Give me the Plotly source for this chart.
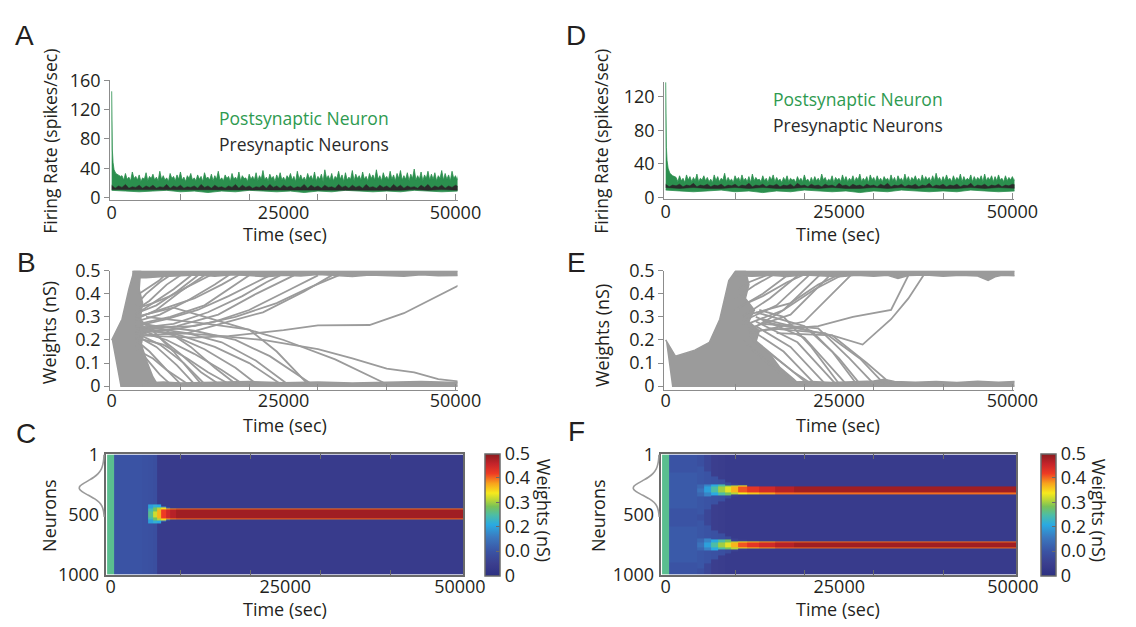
import plotly.graph_objects as go

W, H = 1136, 627
FONT = "Open Sans"
INK = "#231f20"
AXC = "#8c8c8c"
FRAME = "#6a6a6a"
GREEN = "#2b8f4e"
BLACK = "#2a2a2a"
GREY = "#9b9b9b"

# ---------------- data: firing rates (A, D) ----------------
time_ticks = [0, 25000, 50000]
time_minor = [10000, 20000, 30000, 40000, 50000]
rate_ticks_A = [0, 40, 80, 120, 160]
rate_ticks_D = [0, 40, 80, 120]

spike_t = [0, 40, 100, 200, 350, 600, 1000, 1300]
A_spike = [145, 95, 65, 48, 38, 33, 30, 29]
D_spike = [137, 90, 60, 44, 35, 29, 26, 25]

A_green_up = [30, 24, 33, 25, 28, 23, 35, 26, 29, 24, 31, 22, 27, 25, 34, 23, 29, 26, 32, 24,
              28, 23, 36, 25, 30, 24, 27, 22, 33, 26, 29, 23, 31, 25, 35, 24, 28, 22, 30, 26,
              33, 24, 27, 23, 31, 25, 29, 22, 34, 26, 28, 24, 32, 23, 30, 25, 36, 24, 27, 23,
              31, 26, 29, 22, 33, 25, 28, 24, 35, 23, 30, 26, 27, 22, 32, 25, 29, 24, 34, 23,
              30, 25, 37, 24, 28, 23, 32, 26, 29, 22, 31, 25, 34, 24, 28, 23, 30, 26, 33, 24,
              29, 22, 36, 25, 31, 24, 28, 23, 33, 26, 30, 24, 35, 23, 29, 25, 32, 22, 38, 26,
              30, 24, 33, 23, 29, 26, 36, 25, 31, 22, 34, 24, 28, 25, 37, 23, 32, 26, 30, 24,
              35, 25, 29, 23, 33, 26, 31, 24, 38, 25, 30, 23, 34, 26, 29, 24, 36, 25, 31, 23,
              33, 26, 37, 24, 30, 25, 34, 23, 32, 26, 39, 24, 30, 25, 35, 23, 31, 26, 36, 24,
              32, 25, 34, 23, 30, 26, 37, 24, 33, 25, 31, 23, 36, 26, 30, 24, 33]
D_green_up = [24, 19, 26, 20, 23, 18, 27, 21, 25, 19, 24, 20, 28, 19, 23, 21, 26, 20, 24, 19,
              22, 18, 27, 20, 25, 19, 23, 21, 29, 19, 24, 20, 22, 18, 26, 21, 24, 19, 27, 20,
              23, 19, 25, 18, 28, 20, 24, 21, 22, 19, 26, 20, 23, 18, 25, 21, 27, 19, 24, 20,
              22, 18, 24, 20, 26, 19, 23, 21, 22, 18, 25, 20, 23, 19, 27, 20, 22, 18, 24, 19,
              25, 20, 23, 19, 28, 21, 24, 19, 22, 20, 26, 18, 24, 21, 23, 19, 27, 20, 25, 19,
              23, 20, 26, 19, 24, 21, 28, 19, 23, 20, 25, 18, 27, 21, 24, 19, 26, 20, 23, 19,
              25, 21, 23, 19, 27, 20, 24, 18, 26, 21, 23, 19, 28, 20, 25, 19, 24, 21, 26, 20,
              23, 19, 27, 20, 25, 21, 24, 19, 26, 20, 29, 21, 24, 19, 25, 20, 27, 21, 23, 19,
              26, 20, 24, 21, 28, 19, 25, 20, 23, 21, 27, 19, 25, 20, 24, 21, 26, 19, 28, 20,
              24, 21, 26, 19, 25, 20, 27, 21, 23, 19, 26, 20, 24, 21, 25, 20, 24]
# sampling grid of the noisy upper edge (one sample every 250 s from 1500 s)
edge_t = list(range(1500, 1500 + 250 * len(A_green_up), 250))

low_t = list(range(0, 50000, 2000)) + [50500]  # 26 samples
A_green_low = [10, 9, 8, 9, 10, 8, 9, 7, 9, 8, 10, 9, 8, 9, 7, 9, 8, 10, 9, 8, 9, 8, 10, 9, 8, 9]
D_green_low = [9, 8, 7, 8, 9, 7, 8, 6, 8, 7, 9, 8, 7, 8, 6, 8, 7, 9, 8, 7, 8, 7, 9, 8, 7, 8]
A_black_low = [11, 10, 11, 10, 10, 11, 10, 11, 10, 10, 11, 10, 11, 10, 10, 11, 10, 11, 10, 11,
               10, 10, 11, 10, 11, 10]
D_black_low = [12, 11, 12, 11, 11, 12, 11, 12, 11, 11, 12, 11, 12, 11, 11, 12, 11, 12, 11, 12,
               11, 11, 12, 11, 12, 11]

A_black_up = [17, 13, 16, 14, 18, 13, 15, 14, 17, 13, 16, 14, 17, 13, 15, 14, 18, 13, 16, 14,
              17, 13, 15, 14, 16, 13, 18, 14, 16, 13, 17, 14, 15, 13, 16, 14, 18, 13, 17, 14,
              16, 13, 15, 14, 17, 13, 18, 14, 16, 13, 17, 14, 16, 13, 15, 14, 18, 13, 17, 14,
              16, 13, 17, 14, 15, 13, 18, 14, 16, 13, 17, 14, 16, 13, 18, 14, 15, 13, 17, 14,
              16, 13, 18, 14, 17, 13, 16, 14, 15, 13, 17, 14, 18, 13, 16, 14, 17, 13, 16, 14,
              17, 15]
D_black_up = [16, 13, 15, 14, 16, 13, 15, 14, 17, 13, 15, 14, 16, 13, 15, 14, 16, 13, 15, 14,
              16, 13, 15, 14, 17, 13, 15, 14, 16, 13, 15, 14, 16, 13, 15, 14, 16, 13, 17, 14,
              15, 13, 16, 14, 15, 13, 16, 14, 15, 13, 17, 14, 15, 13, 16, 14, 15, 13, 16, 14,
              15, 13, 16, 14, 17, 13, 15, 14, 16, 13, 15, 14, 16, 13, 15, 14, 17, 13, 15, 14,
              16, 13, 15, 14, 16, 13, 15, 14, 17, 13, 15, 14, 16, 13, 15, 14, 16, 13, 15, 14,
              16, 15]
black_t = list(range(0, 500 * len(A_black_up), 500))  # one sample every 500 s

# ---------------- data: weights (B, E) ----------------
weight_ticks = [0, 0.1, 0.2, 0.3, 0.4, 0.5]
weight_labels = ["0", "0.1", "0.2", "0.3", "0.4", "0.5"]

B_dense_t = [0, 1500, 2500, 3250, 4200, 4000, 4500, 4200, 4700, 4300, 5200, 6000, 6800, 1250]
B_dense_w = [0.2, 0.29, 0.42, 0.5, 0.5, 0.42, 0.36, 0.3, 0.24, 0.18, 0.1, 0.04, 0.0, 0.0]
B_top_t = [3000, 5000, 7500, 10000, 12500, 15000, 17500, 20000, 22500, 25000, 27500, 30000,
           32500, 35000, 37500, 40000, 42500, 45000, 47500, 50700]
B_top_w = [0.47, 0.47, 0.475, 0.478, 0.482, 0.476, 0.483, 0.479, 0.474, 0.48, 0.477, 0.484,
           0.478, 0.475, 0.482, 0.479, 0.476, 0.483, 0.478, 0.48]
B_bot_t = [4500, 7500, 10000, 15000, 20000, 25000, 30000, 35000, 40000, 45000, 50700]
B_bot_w = [0.012, 0.018, 0.014, 0.017, 0.02, 0.015, 0.018, 0.014, 0.017, 0.02, 0.016]
B_lines = [
    ([3500, 5000, 7000, 9000], [0.35, 0.40, 0.45, 0.49]),
    ([3500, 5500, 8000, 10500], [0.33, 0.37, 0.44, 0.49]),
    ([3500, 6000, 9000, 12000], [0.31, 0.36, 0.42, 0.49]),
    ([3500, 6500, 10000, 14000], [0.29, 0.33, 0.41, 0.49]),
    ([3500, 7000, 11000, 15000, 17500], [0.28, 0.31, 0.37, 0.44, 0.49]),
    ([3500, 8000, 12500, 17000, 21000, 23000], [0.26, 0.29, 0.33, 0.39, 0.45, 0.48]),
    ([3500, 9000, 14000, 19000, 22500, 24500], [0.25, 0.27, 0.32, 0.39, 0.45, 0.48]),
    ([3500, 10000, 15000, 20000, 26000, 30000], [0.23, 0.25, 0.28, 0.33, 0.42, 0.48]),
    ([3500, 11000, 17000, 22000, 28000, 32000], [0.22, 0.23, 0.28, 0.32, 0.41, 0.48]),
    ([4000, 12000, 18000, 24000, 29000, 33000], [0.25, 0.26, 0.30, 0.36, 0.43, 0.48]),
    ([4000, 7000, 12000, 16000, 19000], [0.30, 0.33, 0.38, 0.44, 0.49]),
    ([4000, 12000, 17000, 25000, 30000, 37500, 42500, 47500, 50700],
     [0.22, 0.21, 0.217, 0.243, 0.263, 0.265, 0.316, 0.39, 0.44]),
    ([4000, 5500, 7000, 8000], [0.40, 0.43, 0.46, 0.49]),
    ([4000, 6000, 8500, 11000, 15000], [0.34, 0.36, 0.39, 0.43, 0.49]),
    ([4000, 6500, 9500, 13000], [0.32, 0.35, 0.41, 0.49]),
    ([4000, 8500, 13500, 18000, 20500], [0.27, 0.30, 0.35, 0.44, 0.49]),
    ([4000, 9500, 15500, 21000, 26500], [0.24, 0.26, 0.31, 0.40, 0.48]),
    ([3500, 5000, 7000, 8500], [0.18, 0.12, 0.05, 0.01]),
    ([3500, 5500, 8000, 10000], [0.20, 0.15, 0.07, 0.01]),
    ([3500, 6500, 9500, 12000], [0.22, 0.17, 0.09, 0.01]),
    ([3500, 7000, 10500, 13500], [0.23, 0.18, 0.10, 0.01]),
    ([3500, 8000, 12000, 16000, 19000], [0.24, 0.20, 0.14, 0.07, 0.01]),
    ([3500, 9000, 13500, 18000, 21000], [0.26, 0.22, 0.16, 0.08, 0.01]),
    ([4000, 10000, 15000, 20000, 24500], [0.25, 0.22, 0.17, 0.10, 0.01]),
    ([4000, 11000, 16000, 21000, 25500], [0.26, 0.23, 0.19, 0.11, 0.01]),
    ([4000, 12000, 18000, 23000, 29000], [0.27, 0.24, 0.20, 0.13, 0.01]),
    ([3500, 9000, 17000, 25000, 32500, 39500], [0.30, 0.34, 0.27, 0.20, 0.116, 0.016]),
    ([4000, 15000, 22000, 30000, 35000, 40000, 44000, 47500, 50500],
     [0.24, 0.22, 0.20, 0.16, 0.12, 0.076, 0.06, 0.03, 0.02]),
    ([3500, 7500, 11000, 14000, 17000], [0.21, 0.18, 0.12, 0.06, 0.01]),
    ([5000, 14000, 20000, 24000, 28500], [0.30, 0.27, 0.245, 0.15, 0.01]),
    ([3500, 6000, 8000, 10000, 11000], [0.16, 0.12, 0.07, 0.03, 0.01]),
    ([4000, 7000, 10000, 13000, 15500], [0.25, 0.21, 0.14, 0.06, 0.01]),
    ([4000, 8000, 11500, 15000, 18000], [0.28, 0.24, 0.17, 0.08, 0.01]),
    ([4000, 6000, 9000, 11500, 13000], [0.29, 0.24, 0.15, 0.06, 0.01]),
]

E_dense_t = [0, 1400, 4200, 6300, 7800, 9100, 10100, 11500, 12000, 11500, 12800, 12000, 13500,
             13000, 15000, 16500, 18500, 19500, 900]
E_dense_w = [0.2, 0.13, 0.156, 0.19, 0.29, 0.457, 0.5, 0.5, 0.44, 0.38, 0.33, 0.28, 0.24,
             0.19, 0.14, 0.08, 0.03, 0.0, 0.0]
E_top_t = [10000, 12500, 15000, 17500, 20000, 22500, 25000, 27500, 30000, 32000, 33500, 35000,
           37500, 40000, 42500, 45000, 46500, 47500, 48500, 50700]
E_top_w = [0.478, 0.476, 0.48, 0.475, 0.482, 0.478, 0.474, 0.48, 0.476, 0.48, 0.466, 0.479,
           0.482, 0.476, 0.48, 0.477, 0.458, 0.474, 0.48, 0.478]
E_bot_t = [18000, 21000, 24000, 27000, 30000, 31500, 33000, 36000, 39000, 42000, 45000, 48000, 50700]
E_bot_w = [0.018, 0.02, 0.016, 0.019, 0.022, 0.03, 0.02, 0.017, 0.02, 0.016, 0.021, 0.017, 0.02]
E_lines = [
    ([10000, 13000, 16000], [0.38, 0.44, 0.49]),
    ([10000, 14000, 18000], [0.33, 0.40, 0.49]),
    ([11000, 15000, 19500], [0.30, 0.38, 0.49]),
    ([11000, 16000, 21000], [0.28, 0.35, 0.49]),
    ([11000, 17000, 22500], [0.26, 0.33, 0.49]),
    ([12000, 18000, 24000], [0.25, 0.31, 0.49]),
    ([12000, 16500, 21500, 26000], [0.24, 0.32, 0.42, 0.49]),
    ([12000, 20000, 24000, 27000], [0.23, 0.28, 0.40, 0.49]),
    ([13000, 22000, 27000, 32500, 35000], [0.24, 0.26, 0.30, 0.33, 0.48]),
    ([14000, 24000, 28400, 32500, 35000, 37400], [0.28, 0.22, 0.18, 0.29, 0.38, 0.49]),
    ([12000, 18000, 22000, 25500], [0.31, 0.36, 0.44, 0.49]),
    ([10500, 12000, 14500, 17000], [0.42, 0.45, 0.48, 0.49]),
    ([11000, 14000, 17500, 20500], [0.35, 0.39, 0.45, 0.49]),
    ([11000, 15000, 19000], [0.20, 0.10, 0.01]),
    ([12000, 16000, 20500], [0.22, 0.12, 0.01]),
    ([12000, 17000, 21500], [0.25, 0.15, 0.01]),
    ([13000, 18000, 23000], [0.26, 0.17, 0.01]),
    ([13000, 19000, 24500], [0.28, 0.19, 0.01]),
    ([13000, 20000, 26000], [0.30, 0.21, 0.01]),
    ([14000, 21000, 25000, 28000], [0.29, 0.24, 0.12, 0.01]),
    ([14000, 22000, 26500, 30000], [0.27, 0.25, 0.12, 0.01]),
    ([15000, 23000, 28000, 31500], [0.25, 0.23, 0.12, 0.01]),
    ([16000, 24000, 29000, 32500], [0.23, 0.22, 0.10, 0.01]),
    ([12000, 15500, 18500], [0.17, 0.08, 0.01]),
    ([13000, 20000, 24000, 27500], [0.32, 0.26, 0.15, 0.01]),
    ([12500, 15000, 18500, 21000], [0.20, 0.14, 0.06, 0.01]),
    ([13500, 17000, 21000, 25000], [0.33, 0.30, 0.17, 0.01]),
]

# ---------------- data: weight maps (C, F) ----------------
neuron_ticks = [1, 500, 1000]
cbar_vals = [0, 0.1, 0.2, 0.3, 0.4, 0.5]
cbar_text = ["0", "0.0", "0.2", "0.3", "0.4", "0.5"]
neuron_rows = list(range(5, 1000, 10))

C_centers = [495]
C_t = [0, 1000, 2000, 3000, 4000, 5000, 5800, 6400, 7000, 7600, 8200, 8900, 9800, 11000,
       13000, 16000, 20000, 26000, 32000, 38000, 44000, 50000]
C_bg = [0.26, 0.10, 0.10, 0.10, 0.10, 0.095, 0.093, 0.088, 0.04, 0.04, 0.04, 0.04, 0.04, 0.04,
        0.04, 0.04, 0.04, 0.04, 0.04, 0.04, 0.04, 0.04]
C_halo = [0, 0, 0, 0, 0, 0, 0.20, 0.22, 0.21, 0.17, 0.12, 0, 0, 0, 0, 0, 0, 0, 0, 0, 0, 0]
C_halo_hw = [0, 0, 0, 0, 0, 0, 80, 80, 75, 65, 58, 0, 0, 0, 0, 0, 0, 0, 0, 0, 0, 0]
C_edge = [0, 0, 0, 0, 0, 0, 0.24, 0.28, 0.31, 0.35, 0.38, 0.39, 0.40, 0.40, 0.40, 0.40, 0.40,
          0.40, 0.40, 0.40, 0.40, 0.40]
C_edge_hw = [0, 0, 0, 0, 0, 0, 50, 55, 55, 52, 50, 48, 47, 47, 47, 47, 47, 47, 47, 47, 47, 47]
C_core = [0, 0, 0, 0, 0, 0, 0.26, 0.32, 0.37, 0.42, 0.45, 0.47, 0.485, 0.485, 0.485, 0.485,
          0.485, 0.485, 0.485, 0.485, 0.485, 0.485]
C_core_hw = [0, 0, 0, 0, 0, 0, 25, 30, 35, 38, 40, 40, 40, 40, 40, 40, 40, 40, 40, 40, 40, 40]

F_centers = [296, 752]
F_t = [0, 1000, 2000, 3000, 4000, 5000, 6000, 7000, 8000, 9000, 10000, 11000, 12500, 14500,
       17000, 20000, 25000, 30000, 37500, 45000, 50000]
F_bg = [0.26, 0.10, 0.10, 0.10, 0.10, 0.09, 0.07, 0.05, 0.045, 0.04, 0.04, 0.04, 0.04, 0.04,
        0.04, 0.04, 0.04, 0.04, 0.04, 0.04, 0.04]
F_halo = [0, 0.11, 0.11, 0.11, 0.11, 0.105, 0.10, 0.095, 0.09, 0.08, 0.06, 0.05, 0, 0, 0, 0,
          0, 0, 0, 0, 0]
F_halo_hw = [0, 150, 150, 150, 150, 200, 160, 120, 90, 70, 55, 45, 0, 0, 0, 0, 0, 0, 0, 0, 0]
F_edge = [0, 0, 0, 0, 0, 0.13, 0.17, 0.21, 0.25, 0.28, 0.31, 0.34, 0.36, 0.38, 0.40, 0.40,
          0.40, 0.40, 0.40, 0.40, 0.40]
F_edge_hw = [0, 0, 0, 0, 0, 50, 50, 45, 42, 40, 36, 33, 31, 30, 30, 30, 30, 30, 30, 30, 30]
F_core = [0, 0, 0, 0, 0, 0.15, 0.20, 0.25, 0.30, 0.33, 0.37, 0.41, 0.43, 0.45, 0.47, 0.485,
          0.485, 0.485, 0.485, 0.485, 0.485]
F_core_hw = [0, 0, 0, 0, 0, 20, 22, 22, 22, 22, 22, 22, 22, 22, 22, 22, 22, 22, 22, 22, 22]

gauss_n = [0, 40, 80, 120, 160, 190, 220, 245, 265, 285, 310, 340, 370, 400, 430, 470, 520]
gauss_a = [0.02, 0.03, 0.06, 0.12, 0.25, 0.42, 0.65, 0.85, 0.97, 0.99, 0.88, 0.63, 0.38, 0.2,
           0.1, 0.04, 0.01]

colorscale = [
    [0.00, "#2d3082"], [0.10, "#3b3e8e"], [0.20, "#3a53a4"], [0.32, "#3b7ac0"],
    [0.42, "#2aaae2"], [0.50, "#4dbda5"], [0.57, "#79c257"], [0.63, "#c2d933"],
    [0.68, "#f7e91d"], [0.76, "#f8a21c"], [0.84, "#ee3b24"], [0.92, "#c4232a"],
    [1.00, "#8a1b1e"],
]


def build_z(centers, bg, halo, halo_hw, edge, edge_hw, core, core_hw):
    z = []
    for n in neuron_rows:
        d = min(abs(n - c) for c in centers)
        row = []
        for j in range(len(bg)):
            v = bg[j]
            if d < halo_hw[j]:
                v = max(v, halo[j])
            if d < edge_hw[j]:
                v = max(v, edge[j])
            if d < core_hw[j]:
                v = max(v, core[j])
            row.append(v)
        z.append(row)
    return z


# ---------------- helpers ----------------
def xd(p0, p1):
    return [p0 / W, p1 / W]


def yd(top, bot):
    return [1 - bot / H, 1 - top / H]


def tf(size=18, color=INK):
    return dict(family=FONT, size=size, color=color)


fig = go.Figure()


def rate_panel(xa, ya, up, green_low, black_up, black_low, spike):
    gx = spike_t + edge_t + low_t[::-1]
    gy = spike + up + green_low[::-1]
    fig.add_trace(go.Scatter(x=gx, y=gy, mode="lines", fill="toself", fillcolor=GREEN,
                             line=dict(color=GREEN, width=0.8), xaxis=xa, yaxis=ya,
                             hoverinfo="skip", showlegend=False))
    bx = black_t + low_t[::-1]
    by = black_up + black_low[::-1]
    fig.add_trace(go.Scatter(x=bx, y=by, mode="lines", fill="toself", fillcolor=BLACK,
                             line=dict(color=BLACK, width=0.5), xaxis=xa, yaxis=ya,
                             hoverinfo="skip", showlegend=False))


def weight_panel(xa, ya, dense_t, dense_w, top_t, top_w, bot_t, bot_w, lines):
    fig.add_trace(go.Scatter(x=dense_t, y=dense_w, mode="lines", fill="toself", fillcolor=GREY,
                             line=dict(color=GREY, width=1.5), xaxis=xa, yaxis=ya,
                             hoverinfo="skip", showlegend=False))
    fig.add_trace(go.Scatter(x=top_t + top_t[::-1], y=top_w + [0.5] * len(top_t), mode="lines",
                             fill="toself", fillcolor=GREY, line=dict(color=GREY, width=1.5),
                             xaxis=xa, yaxis=ya, hoverinfo="skip", showlegend=False))
    fig.add_trace(go.Scatter(x=bot_t + bot_t[::-1], y=bot_w + [0.0] * len(bot_t), mode="lines",
                             fill="toself", fillcolor=GREY, line=dict(color=GREY, width=1.5),
                             xaxis=xa, yaxis=ya, hoverinfo="skip", showlegend=False))
    for t, w in lines:
        fig.add_trace(go.Scatter(x=t, y=w, mode="lines", line=dict(color=GREY, width=1.8),
                                 xaxis=xa, yaxis=ya, hoverinfo="skip", showlegend=False))


def map_panel(xa, ya, xg, yg, t, z, cbx):
    fig.add_trace(go.Heatmap(x=t, y=neuron_rows, z=z, zmin=0, zmax=0.5, colorscale=colorscale,
                             zsmooth=False, xaxis=xa, yaxis=ya, hoverinfo="skip",
                             colorbar=dict(x=cbx / W, xanchor="left", xpad=0, ypad=0,
                                           y=1 - 521.5 / H, yanchor="middle", len=127 / H,
                                           lenmode="fraction", thickness=15,
                                           outlinecolor=FRAME, outlinewidth=1.5,
                                           tickvals=cbar_vals, ticktext=cbar_text,
                                           ticks="inside", ticklen=4, tickcolor=FRAME,
                                           tickfont=tf(18))))
    fig.add_trace(go.Scatter(x=gauss_a, y=gauss_n, mode="lines",
                             line=dict(color="#9a9a9a", width=1.6, shape="spline"),
                             xaxis=xg, yaxis=yg, hoverinfo="skip", showlegend=False))


rate_panel("x", "y", A_green_up, A_green_low, A_black_up, A_black_low, A_spike)
weight_panel("x2", "y2", B_dense_t, B_dense_w, B_top_t, B_top_w, B_bot_t, B_bot_w, B_lines)
map_panel("x3", "y3", "x4", "y4", C_t,
          build_z(C_centers, C_bg, C_halo, C_halo_hw, C_edge, C_edge_hw, C_core, C_core_hw), 493)
rate_panel("x5", "y5", D_green_up, D_green_low, D_black_up, D_black_low, D_spike)
weight_panel("x6", "y6", E_dense_t, E_dense_w, E_top_t, E_top_w, E_bot_t, E_bot_w, E_lines)
map_panel("x7", "y7", "x8", "y8", F_t,
          build_z(F_centers, F_bg, F_halo, F_halo_hw, F_edge, F_edge_hw, F_core, F_core_hw), 1063)


def time_axis(dom, anchor, standoff):
    return dict(domain=dom, range=[-200, 50300], anchor=anchor, tickmode="array",
                tickvals=time_ticks, ticktext=[str(v) for v in time_ticks], ticks="",
                showline=True, linecolor=AXC, linewidth=1.2, showgrid=False, zeroline=False,
                tickfont=tf(18), ticklabelstandoff=standoff,
                minor=dict(tickmode="array", tickvals=time_minor, ticks="inside", ticklen=6,
                           tickcolor=AXC, tickwidth=1.2, showgrid=False))


def val_axis(dom, anchor, rng, vals, text):
    return dict(domain=dom, range=rng, anchor=anchor, tickmode="array", tickvals=vals,
                ticktext=text, ticks="outside", ticklen=5, tickcolor=AXC, tickwidth=1.2,
                showline=True, linecolor=AXC, linewidth=1.2, showgrid=False, zeroline=False,
                tickfont=tf(18))


def map_xaxis(dom, anchor):
    return dict(domain=dom, range=[-600, 50500], anchor=anchor, tickmode="array",
                tickvals=time_ticks, ticktext=[str(v) for v in time_ticks], ticks="",
                showline=True, mirror="allticks", linecolor=FRAME, linewidth=1.5,
                showgrid=False, zeroline=False, tickfont=tf(18), ticklabelstandoff=-5,
                minor=dict(tickmode="array", tickvals=time_minor[:-1], ticks="inside",
                           ticklen=5, tickcolor=FRAME, tickwidth=1.2, showgrid=False))


def map_yaxis(dom, anchor):
    return dict(domain=dom, range=[1000, 0], anchor=anchor, tickmode="array",
                tickvals=neuron_ticks, ticktext=[str(v) for v in neuron_ticks], ticks="",
                showline=True, mirror=True, linecolor=FRAME, linewidth=1.5, showgrid=False,
                zeroline=False, tickfont=tf(18), ticklabelstandoff=2)


hidden = dict(visible=False, showgrid=False, zeroline=False)

rate_ydom = yd(70, 194.3)
rate_ydom_D = yd(71.25, 193.75)
w_ydom = yd(268, 392)
map_ydom = yd(459, 584)

layout = dict(
    width=W, height=H, margin=dict(l=0, r=0, t=0, b=0),
    paper_bgcolor="white", plot_bgcolor="rgba(0,0,0,0)",
    font=dict(family=FONT, color=INK), showlegend=False,
    xaxis=time_axis(xd(109, 465), "y", -4),
    yaxis=val_axis(rate_ydom, "x", [-3, 160], rate_ticks_A, [str(v) for v in rate_ticks_A]),
    xaxis2=time_axis(xd(109, 465), "y2", -6),
    yaxis2=val_axis(w_ydom, "x2", [-0.0167, 0.5], weight_ticks, weight_labels),
    xaxis3=map_xaxis(xd(105, 471), "y3"),
    yaxis3=map_yaxis(map_ydom, "x3"),
    xaxis4=dict(hidden, domain=xd(70, 105), range=[1.269, -0.077], anchor="y4"),
    yaxis4=dict(hidden, domain=map_ydom, range=[1000, 0], anchor="x4"),
    xaxis5=time_axis(xd(677, 1036), "y5", -4),
    yaxis5=val_axis(rate_ydom_D, "x5", [-2, 138], rate_ticks_D, [str(v) for v in rate_ticks_D]),
    xaxis6=time_axis(xd(677, 1036), "y6", -6),
    yaxis6=val_axis(w_ydom, "x6", [-0.0167, 0.5], weight_ticks, weight_labels),
    xaxis7=map_xaxis(xd(674, 1038), "y7"),
    yaxis7=map_yaxis(map_ydom, "x7"),
    xaxis8=dict(hidden, domain=xd(638, 674), range=[1.259, -0.074], anchor="y8"),
    yaxis8=dict(hidden, domain=map_ydom, range=[1000, 0], anchor="x8"),
)
fig.update_layout(**layout)

anns = []


def ann(text, px, py, size=18, color=INK, angle=0, xanchor="center", family=FONT):
    anns.append(dict(text=text, x=px / W, y=1 - py / H, xref="paper", yref="paper",
                     showarrow=False, textangle=angle, xanchor=xanchor, yanchor="middle",
                     font=dict(family=family, size=size, color=color)))


for letter, px, py in [("A", 21, 23), ("B", 23, 259), ("C", 23, 437),
                       ("D", 586, 23), ("E", 587, 259), ("F", 587, 435)]:
    ann(letter, px, py, size=28, family="Liberation Sans")

for cx in (288, 855):
    ann("Time (sec)", cx, 230)
    ann("Time (sec)", cx, 428)
    ann("Time (sec)", cx, 620)

ann("Firing Rate (spikes/sec)", 47, 133, size=17.5, angle=-90)
ann("Firing Rate (spikes/sec)", 612, 133, size=17.5, angle=-90)
ann("Weights (nS)", 46, 332, angle=-90)
ann("Weights (nS)", 613, 335, angle=-90)
ann("Neurons", 46, 522, angle=-90)
ann("Neurons", 609, 522, angle=-90)
ann("Weights (nS)", 553, 517, angle=90)
ann("Weights (nS)", 1122, 517, angle=90)

ann("Postsynaptic Neuron", 218, 109, size=17.5, color="#2e9a50", xanchor="left")
ann("Presynaptic Neurons", 218, 136, size=17.5, color=BLACK, xanchor="left")
ann("Postsynaptic Neuron", 786, 89, size=17.5, color="#2e9a50", xanchor="left")
ann("Presynaptic Neurons", 786, 116, size=17.5, color=BLACK, xanchor="left")

fig.update_layout(annotations=anns)
fig.write_html("out.html")
